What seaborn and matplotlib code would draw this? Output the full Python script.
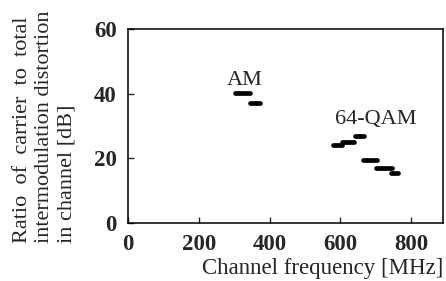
import pandas as pd
import matplotlib
matplotlib.use('Agg')
import matplotlib.pyplot as plt
import seaborn as sns

# -----------------------------------------------------
# DATA
# -----------------------------------------------------
# each dash = a group of channels sharing one ratio value
seg_group = ['AM', 'AM', '64-QAM', '64-QAM', '64-QAM', '64-QAM', '64-QAM', '64-QAM']
seg_start = [303, 345, 580, 605, 641, 665, 702, 742]   # MHz
seg_end = [346, 372, 606, 640, 666, 703, 745, 762]     # MHz
seg_value = [40.2, 37.0, 24.0, 25.2, 26.9, 19.4, 17.0, 15.5]  # dB

x_ticks = [0, 200, 400, 600, 800]
y_ticks = [0, 20, 40, 60]

# long form table for seaborn: two rows (start/end) per dash
rows = []
for i, (g, s, e, v) in enumerate(zip(seg_group, seg_start, seg_end, seg_value)):
    rows.append({'seg': i, 'group': g, 'freq': s, 'ratio': v})
    rows.append({'seg': i, 'group': g, 'freq': e, 'ratio': v})
df = pd.DataFrame(rows)

sns.set_style('ticks')
plt.rcParams['font.family'] = ['Liberation Serif', 'DejaVu Serif']

fig = plt.figure(figsize=(4.46, 2.81), dpi=100)
ax = fig.add_axes([0.287, 0.206, 0.706, 0.691])

sns.lineplot(data=df, x='freq', y='ratio', units='seg', estimator=None,
             color='black', linewidth=3.4, ax=ax, legend=False,
             solid_capstyle='round')

ax.set_xlim(0, 890)
ax.set_ylim(0, 60)
ax.set_xticks(x_ticks)
ax.set_yticks(y_ticks)
ax.tick_params(direction='in', length=4, width=1, labelsize=16.5,
               top=False, right=False)
ax.tick_params(axis='x', pad=8)
ax.tick_params(axis='y', pad=8)
for lab in ax.get_xticklabels() + ax.get_yticklabels():
    lab.set_fontweight('bold')
for sp in ax.spines.values():
    sp.set_visible(True)
    sp.set_linewidth(1.1)
    sp.set_color('black')

ax.set_xlabel('')
ax.set_ylabel('')
ax.text(329, 44.0, 'AM', fontsize=16, ha='center', va='center')
ax.text(700, 31.9, '64-QAM', fontsize=16, ha='center', va='center')

fig.text(0.993, 0.043, 'Channel frequency [MHz]', fontsize=16.5,
         ha='right', va='center')
fig.text(0.1, 0.55, 'Ratio  of  carrier  to  total\nintermodulation distortion\nin channel [dB]',
         fontsize=16, rotation=90, ha='center', va='center',
         multialignment='left', linespacing=1.22)

fig.savefig('out.png', dpi=100)
